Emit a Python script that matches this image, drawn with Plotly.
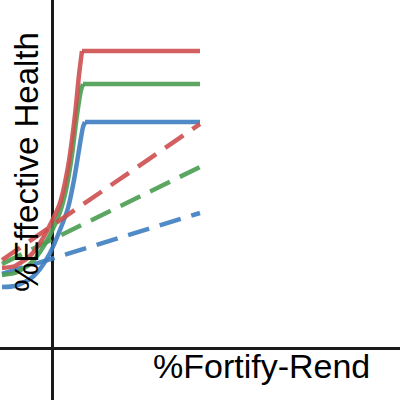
import plotly.graph_objects as go

# values (x: fortify-rend, y: effective health)
# rising part of each solid curve, ending where it hits its cap
red_x = [-0.50, -0.37, -0.22, -0.12, -0.02, 0.08, 0.16, 0.23, 0.27, 0.30]
red_y = [0.80, 0.82, 0.92, 1.05, 1.23, 1.45, 1.81, 2.33, 2.73, 2.97]

green_x = [-0.50, -0.37, -0.22, -0.12, -0.02, 0.08, 0.14, 0.20, 0.25, 0.29, 0.31]
green_y = [0.73, 0.75, 0.84, 0.96, 1.13, 1.36, 1.58, 1.93, 2.33, 2.58, 2.64]

blue_x = [-0.50, -0.37, -0.22, -0.12, -0.02, 0.08, 0.16, 0.22, 0.27, 0.31, 0.33]
blue_y = [0.61, 0.62, 0.69, 0.79, 0.95, 1.18, 1.40, 1.68, 1.98, 2.21, 2.26]

x_end = 1.48

dash_x = [-0.50, 1.48]
red_dash_y = [0.88, 2.24]
green_dash_y = [0.84, 1.81]
blue_dash_y = [0.74, 1.35]

RED = "#cf4f4f"
GREEN = "#4a9e52"
BLUE = "#3f7fc1"

fig = go.Figure()

series = [
    (blue_x, blue_y, blue_dash_y, BLUE),
    (green_x, green_y, green_dash_y, GREEN),
    (red_x, red_y, red_dash_y, RED),
]
for xs, ys, dys, col in series:
    fig.add_trace(go.Scatter(x=xs, y=ys, mode="lines", opacity=0.9,
                             line=dict(color=col, width=4.5,
                                       shape="spline", smoothing=0.6)))
    # flat cap
    fig.add_trace(go.Scatter(x=[xs[-1], x_end], y=[ys[-1], ys[-1]],
                             mode="lines", opacity=0.9,
                             line=dict(color=col, width=4.5)))
    fig.add_trace(go.Scatter(x=dash_x, y=dys, mode="lines", opacity=0.9,
                             line=dict(color=col, width=4.5, dash="22px,11px")))

axis = dict(showgrid=False, showticklabels=False, ticks="",
            zeroline=True, zerolinecolor="#1a1a1a", zerolinewidth=3,
            fixedrange=True)

fig.update_layout(
    width=400, height=400,
    margin=dict(l=0, r=0, t=0, b=0),
    paper_bgcolor="white", plot_bgcolor="white",
    showlegend=False,
    hovermode=False,
    xaxis=dict(range=[-0.52, 3.48], **axis),
    yaxis=dict(range=[-0.52, 3.48], **axis),
    font=dict(family="Liberation Sans, Arial, sans-serif", color="black"),
    annotations=[
        dict(text="%Fortify-Rend", xref="paper", yref="paper",
             x=261 / 400, y=1 - 366 / 400, showarrow=False,
             font=dict(size=34), xanchor="center", yanchor="middle"),
        dict(text="%Effective Health", xref="paper", yref="paper",
             x=26 / 400, y=1 - 162 / 400, showarrow=False, textangle=-90,
             font=dict(size=33), xanchor="center", yanchor="middle"),
    ],
)

# drop the browser's default page margin so the figure sits at 0,0
fig.write_html("out.html", config={"displayModeBar": False},
               post_script="document.body.style.margin='0';")
